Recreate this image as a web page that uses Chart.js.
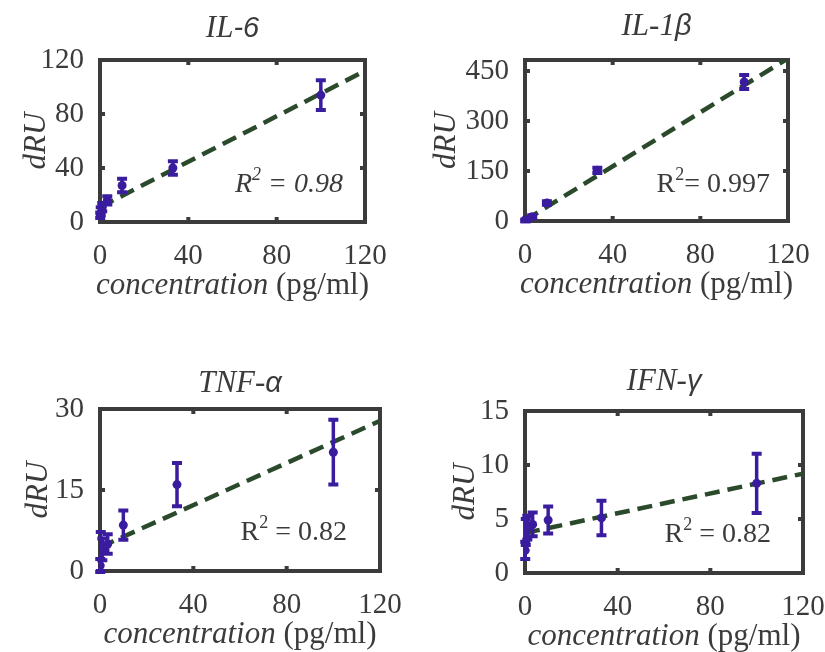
<!DOCTYPE html>
<html lang="en">
<head>
<meta charset="UTF-8" />
<title>Cytokine calibration curves</title>
<script src="https://cdn.jsdelivr.net/npm/chart.js"></script>
<style>
  body { margin: 0; background: #fff; }
  #wrap { position: relative; width: 825px; height: 652px; overflow: hidden; }
  #wrap canvas { position: absolute; }
</style>
</head>
<body>
<div id="wrap">
  <canvas id="il6" width="412" height="326" style="left:0;top:0"></canvas>
  <canvas id="il1b" width="413" height="326" style="left:412px;top:0"></canvas>
  <canvas id="tnfa" width="412" height="326" style="left:0;top:326px"></canvas>
  <canvas id="ifng" width="413" height="326" style="left:412px;top:326px"></canvas>
</div>

<script>
// spiked concentrations, pg/ml
const concentration = [0.1, 0.33, 1, 3.3, 10, 33, 100];

const il6Mean = [5, 8, 11, 16, 27, 40, 94];
const il6Err  = [2, 3, 3, 3, 5, 5, 11];
const il6Fit  = [11, 112];

const il1bMean = [1, 2, 5, 13, 54, 152, 417];
const il1bErr  = [2, 3, 3, 4, 5, 8, 21];
const il1bFit  = [2, 488];

const tnfaMean = [1, 3.6, 4, 5, 8.5, 16, 22];
const tnfaErr  = [1.2, 3.6, 2, 1.8, 2.7, 4, 6];
const tnfaFit  = [4.4, 27.8];

const ifngMean = [2.1, 3.8, 4.2, 4.5, 4.9, 5.1, 8.3];
const ifngErr  = [0.8, 1.2, 1.1, 1.1, 1.25, 1.6, 2.75];
const ifngFit  = [3.7, 9.2];

// ends of the fitted line
const fitX = [0, 120];

const xTicks    = [0, 40, 80, 120];
const il6Ticks  = [0, 40, 80, 120];
const il1bTicks = [0, 150, 300, 450];
const tnfaTicks = [0, 15, 30];
const ifngTicks = [0, 5, 10, 15];

const INK = '#3b3b3b';
const MARK = '#3a1d9e';
const FIT = '#2b4a2c';
const SERIF = '"Liberation Serif", "Times New Roman", serif';
const SANS = '"Liberation Sans", Arial, sans-serif';

function f(style, size, fam) { return style + ' ' + size + 'px ' + (fam || SERIF); }

// draw a row of differently styled text pieces
function drawRuns(ctx, runs, x, y, align) {
  let total = 0;
  runs.forEach(r => { ctx.font = r.font; total += ctx.measureText(r.text).width; });
  let cx = align === 'center' ? x - total / 2 : align === 'right' ? x - total : x;
  runs.forEach(r => {
    ctx.font = r.font;
    ctx.fillText(r.text, cx, y + (r.dy || 0));
    cx += ctx.measureText(r.text).width;
  });
}

const panelDecor = {
  id: 'panelDecor',
  beforeDatasetsDraw(chart) {
    const { ctx, chartArea: a, scales } = chart;
    ctx.save();
    ctx.strokeStyle = INK;
    ctx.lineWidth = 4;
    ctx.strokeRect(a.left, a.top, a.right - a.left, a.bottom - a.top);
    // inward ticks on all four sides
    const len = 5;
    ctx.beginPath();
    scales.x.ticks.forEach(t => {
      const px = scales.x.getPixelForValue(t.value);
      ctx.moveTo(px, a.bottom); ctx.lineTo(px, a.bottom - len);
      ctx.moveTo(px, a.top); ctx.lineTo(px, a.top + len);
    });
    scales.y.ticks.forEach(t => {
      const py = scales.y.getPixelForValue(t.value);
      ctx.moveTo(a.left, py); ctx.lineTo(a.left + len, py);
      ctx.moveTo(a.right, py); ctx.lineTo(a.right - len, py);
    });
    ctx.stroke();
    ctx.restore();
  },
  afterDatasetsDraw(chart, args, opts) {
    const { ctx, scales } = chart;
    const pts = chart.data.datasets[0].data;
    ctx.save();
    ctx.strokeStyle = MARK;
    pts.forEach((p, i) => {
      const px = scales.x.getPixelForValue(p.x);
      const hi = scales.y.getPixelForValue(p.y + opts.err[i]);
      const lo = scales.y.getPixelForValue(p.y - opts.err[i]);
      ctx.lineWidth = 3.5;
      ctx.beginPath();
      ctx.moveTo(px, hi); ctx.lineTo(px, lo);
      ctx.stroke();
      ctx.lineWidth = 4;
      ctx.beginPath();
      ctx.moveTo(px - 5, hi); ctx.lineTo(px + 5, hi);
      ctx.moveTo(px - 5, lo); ctx.lineTo(px + 5, lo);
      ctx.stroke();
    });
    ctx.restore();
  },
  afterDraw(chart, args, opts) {
    const { ctx, chartArea: a } = chart;
    const mid = (a.left + a.right) / 2;
    ctx.save();
    ctx.fillStyle = INK;
    ctx.textBaseline = 'alphabetic';
    drawRuns(ctx, opts.title, mid, a.top - opts.titleGap, 'center');
    drawRuns(ctx, [
      { text: 'concentration', font: f('italic', 31) },
      { text: ' (pg/ml)', font: f('normal', 31) }
    ], mid, a.bottom + 72, 'center');
    drawRuns(ctx, opts.r2, a.right - opts.r2Right, a.bottom - opts.r2Up, 'right');
    ctx.translate(a.left - opts.yGap, (a.top + a.bottom) / 2);
    ctx.rotate(-Math.PI / 2);
    ctx.textBaseline = 'middle';
    drawRuns(ctx, [{ text: 'dRU', font: f('italic', 31) }], 0, 0, 'center');
    ctx.restore();
  }
};

function makePanel(id, mean, err, fit, yTicks, yMax, deco) {
  const canvas = document.getElementById(id);
  const area = deco.area;
  const xAxisH = 60;
  new Chart(canvas, {
    type: 'scatter',
    data: {
      datasets: [
        {
          data: concentration.map((c, i) => ({ x: c, y: mean[i] })),
          backgroundColor: MARK,
          borderColor: MARK,
          pointRadius: 4.5,
          pointBorderWidth: 0
        },
        {
          data: fitX.map((c, i) => ({ x: c, y: fit[i] })),
          showLine: true,
          pointRadius: 0,
          borderColor: FIT,
          borderWidth: 4.5,
          borderDash: [15, 8]
        }
      ]
    },
    options: {
      responsive: false,
      animation: false,
      events: [],
      layout: {
        padding: {
          left: 0,
          top: area.top,
          right: canvas.width - area.right,
          bottom: canvas.height - area.bottom - xAxisH
        }
      },
      scales: {
        x: {
          type: 'linear', min: 0, max: 120,
          grid: { display: false },
          border: { display: false },
          afterBuildTicks: s => { s.ticks = xTicks.map(v => ({ value: v })); },
          afterFit: s => { s.height = xAxisH; s.paddingLeft = 0; s.paddingRight = 0; },
          ticks: { padding: 9, color: INK, font: { family: SERIF, size: 29 }, maxRotation: 0 }
        },
        y: {
          type: 'linear', min: 0, max: yMax,
          grid: { display: false },
          border: { display: false },
          afterBuildTicks: s => { s.ticks = yTicks.map(v => ({ value: v })); },
          afterFit: s => { s.width = area.left; s.paddingTop = 0; s.paddingBottom = 0; },
          ticks: { padding: 8, color: INK, font: { family: SERIF, size: 29 } }
        }
      },
      plugins: {
        legend: { display: false },
        tooltip: { enabled: false },
        panelDecor: Object.assign({ err: err }, deco)
      }
    },
    plugins: [panelDecor]
  });
}

const r2Plain = v => [
  { text: 'R', font: f('normal', 28) },
  { text: '2', font: f('normal', 18), dy: -12 },
  { text: v, font: f('normal', 28) }
];

makePanel('il6', il6Mean, il6Err, il6Fit, il6Ticks, 120, {
  area: { left: 100, top: 60, right: 365, bottom: 222 },
  title: [
    { text: 'IL', font: f('italic', 31) },
    { text: '-6', font: f('italic', 29, SANS) }
  ],
  titleGap: 23,
  r2: [
    { text: 'R', font: f('italic', 28) },
    { text: '2', font: f('italic', 18), dy: -12 },
    { text: ' = 0.98', font: f('italic', 28) }
  ],
  r2Right: 22, r2Up: 30, yGap: 63
});

makePanel('il1b', il1bMean, il1bErr, il1bFit, il1bTicks, 483, {
  area: { left: 113, top: 60, right: 376, bottom: 221 },
  title: [
    { text: 'IL-1', font: f('italic', 31) },
    { text: 'β', font: f('italic', 29, SANS) }
  ],
  titleGap: 25,
  r2: r2Plain('= 0.997'),
  r2Right: 18, r2Up: 29, yGap: 78
});

makePanel('tnfa', tnfaMean, tnfaErr, tnfaFit, tnfaTicks, 30, {
  area: { left: 100, top: 83, right: 380, bottom: 245 },
  title: [
    { text: 'TNF-', font: f('italic', 31) },
    { text: 'α', font: f('italic', 29, SANS) }
  ],
  titleGap: 17,
  r2: r2Plain(' = 0.82'),
  r2Right: 33, r2Up: 31, yGap: 61
});

makePanel('ifng', ifngMean, ifngErr, ifngFit, ifngTicks, 15, {
  area: { left: 113, top: 85, right: 391, bottom: 247 },
  title: [
    { text: 'IFN-', font: f('italic', 31) },
    { text: 'γ', font: f('italic', 29, SANS) }
  ],
  titleGap: 21,
  r2: r2Plain(' = 0.82'),
  r2Right: 32, r2Up: 31, yGap: 59
});
</script>
</body>
</html>
